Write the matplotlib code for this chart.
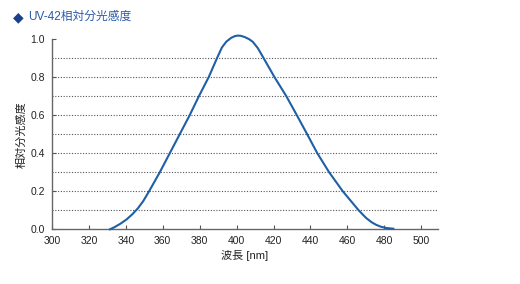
import matplotlib
matplotlib.use('Agg')
import matplotlib.pyplot as plt

plt.rcParams['font.family'] = ['Liberation Sans', 'Noto Sans CJK JP', 'DejaVu Sans']

# 波長 [nm] と相対分光感度
wavelength = [331.4, 334, 337, 340.4, 343.5, 346.5, 349.4, 352.6, 358.4, 363.8, 369.2,
              374.6, 379.6, 384.9, 389.4, 392, 394.4, 397, 399, 400.5, 402.2, 404.5,
              406.8, 408.8, 411.5, 414.6, 420.5, 426.9, 432.6, 438.2, 443.7, 450.1,
              457.5, 466.1, 470.1, 473, 475.5, 478, 481, 484.9]
sensitivity = [0.0, 0.012, 0.029, 0.052, 0.079, 0.11, 0.148, 0.2, 0.3, 0.4, 0.5,
               0.6, 0.7, 0.8, 0.9, 0.955, 0.986, 1.006, 1.015, 1.018, 1.017, 1.01,
               0.999, 0.985, 0.952, 0.9, 0.8, 0.7, 0.6, 0.5, 0.4, 0.3,
               0.2, 0.1, 0.06, 0.038, 0.024, 0.014, 0.007, 0.003]

xticks = list(range(300, 501, 20))
yticks = [0.0, 0.2, 0.4, 0.6, 0.8, 1.0]
grid_y = [0.1, 0.2, 0.3, 0.4, 0.5, 0.6, 0.7, 0.8, 0.9]

fig = plt.figure(figsize=(5.2, 2.84), dpi=100)
ax = fig.add_axes([0.1, 0.1926, 0.742, 0.67])

for g in grid_y:
    ax.axhline(g, color='#555555', lw=0.8, ls=(0, (1, 1.5)), zorder=1)

ax.plot(wavelength, sensitivity, color='#1f5fa6', lw=1.5, clip_on=False, zorder=3,
        solid_joinstyle='round')

ax.set_xlim(300, 509)
ax.set_ylim(0, 1.0)
ax.set_xticks(xticks)
ax.set_yticks(yticks)
ax.set_yticklabels(['%.1f' % v for v in yticks])
ax.tick_params(direction='in', length=3, width=0.8, colors='#555555',
               labelcolor='#222222', labelsize=7.5, pad=5)

for s in ['top', 'right']:
    ax.spines[s].set_visible(False)
for s in ['left', 'bottom']:
    ax.spines[s].set_color('#666666')
    ax.spines[s].set_linewidth(1.0)

ax.set_xlabel('波長 [nm]', fontsize=8, color='#222222', labelpad=3)
ax.set_ylabel('相対分光感度', fontsize=8, color='#222222', labelpad=3)

fig.text(0.024, 0.94, '◆', fontsize=10, color='#1a3f8f', va='center',
         family=['DejaVu Sans'])
fig.text(0.054, 0.94, 'UV-42相対分光感度', fontsize=8.5, color='#2a5aa8', va='center')

fig.savefig('out.png', dpi=100)
